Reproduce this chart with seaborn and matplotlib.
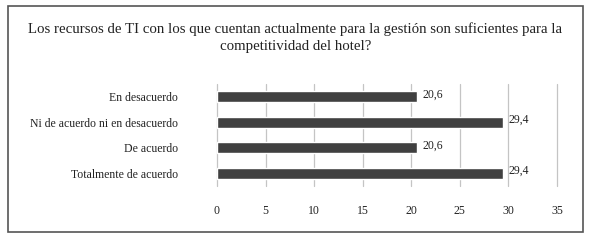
import matplotlib
matplotlib.use("Agg")
import matplotlib.pyplot as plt
import seaborn as sns
import pandas as pd
from matplotlib.patches import Rectangle

categories = ["En desacuerdo", "Ni de acuerdo ni en desacuerdo", "De acuerdo", "Totalmente de acuerdo"]
values = [20.6, 29.4, 20.6, 29.4]
xticks = [0, 5, 10, 15, 20, 25, 30, 35]
title = "Los recursos de TI con los que cuentan actualmente para la gestión son suficientes para la\ncompetitividad del hotel?"

sns.set_theme(style="white")
plt.rcParams['font.family'] = ['Liberation Serif', 'DejaVu Serif']

df = pd.DataFrame({"cat": categories, "val": values})

fig = plt.figure(figsize=(5.91, 2.43), dpi=100)
ax = fig.add_axes([217/591, 1-186/243, (557-217)/591, (186-84)/243])

sns.barplot(data=df, y="cat", x="val", orient="h", color="#404040", width=0.44,
            saturation=1, ax=ax, zorder=3)

ax.set_xlim(0, 35)
ax.set_ylim(3.5, -0.5)
ax.set_xticks(xticks)
ax.set_xticklabels([str(t) for t in xticks], fontsize=8.5, color="#222222")
ax.tick_params(axis="x", length=0, pad=14)
ax.tick_params(axis="y", length=0, pad=28, labelsize=8.5, labelcolor="#222222")
ax.set_xlabel("")
ax.set_ylabel("")
ax.grid(axis="x", color="#c4c4c4", linewidth=0.9, zorder=0)
ax.set_axisbelow(True)
for gl in ax.get_xgridlines():
    gl.set_clip_on(False)
for s in ax.spines.values():
    s.set_visible(False)

for i, v in enumerate(values):
    ax.text(v + 0.6, i - 0.08, f"{v:.1f}".replace(".", ","), va="center", ha="left",
            fontsize=8.5, color="#222222", zorder=4)

fig.text(0.5, 1-38/243, title, ha="center", va="center", fontsize=10.7,
         color="#222222", linespacing=1.4)

fig.patches.append(Rectangle((8/591, 1-232/243), (583-8)/591, (232-6)/243,
                             transform=fig.transFigure, fill=False,
                             edgecolor="#555555", linewidth=1.2))

fig.savefig("out.png", dpi=100)
